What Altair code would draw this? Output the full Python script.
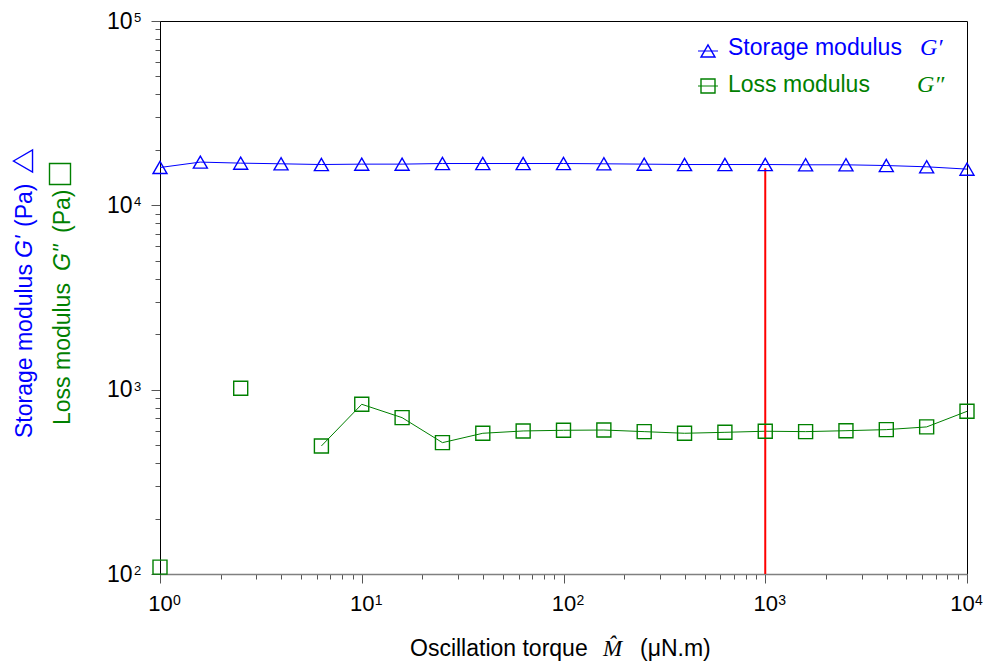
import altair as alt
import pandas as pd

# ---- data ----
torque = [1, 1.585, 2.512, 3.981, 6.310, 10, 15.85, 25.12, 39.81, 63.10, 100,
          158.5, 251.2, 398.1, 631.0, 1000, 1585, 2512, 3981, 6310, 10000]
storage = [16040, 17160, 16940, 16800, 16650, 16730, 16730, 16860, 16860, 16860, 16860,
           16800, 16730, 16650, 16650, 16650, 16590, 16590, 16440, 16180, 15720]
loss = [109, None, 1018, None, 495, 833, 705, 516, 580, 597, 602,
        604, 592, 580, 587, 595, 592, 599, 607, 628, 763]
marker_torque = [1000]
marker_top = [15900]
marker_bottom = [100]

x_major = [1, 10, 100, 1000, 10000]
x_exp = ["0", "1", "2", "3", "4"]
y_major = [100, 1000, 10000, 100000]
y_exp = ["2", "3", "4", "5"]
x_ticks = [m * 10 ** e for e in range(4) for m in range(1, 10)] + [10000]
y_ticks = [m * 10 ** e for e in range(2, 5) for m in range(1, 10)] + [100000]

# ---- tables ----
df_s = pd.DataFrame({"M": torque, "G": storage})
rows = []
seg = 0
for m, g in zip(torque, loss):
    if g is None:
        seg += 1
        continue
    rows.append({"M": m, "G": g, "seg": seg})
df_l = pd.DataFrame(rows)
df_r = pd.DataFrame({"M": marker_torque, "G": marker_top, "G2": marker_bottom})
df_xe = pd.DataFrame({"M": x_major, "e": x_exp})
df_ye = pd.DataFrame({"G": y_major, "e": y_exp})
one = pd.DataFrame({"a": [0]})

BLUE = "#0000ff"
GREEN = "#008000"
SANS = "Liberation Sans"
SERIF = "Liberation Serif"

major = "abs(log(datum.value)/LN10 - round(log(datum.value)/LN10)) < 0.001"
label = "(" + major + ") ? '10' : ''"

X = alt.X("M:Q",
          scale=alt.Scale(type="log", domain=[1, 10000], nice=False),
          axis=alt.Axis(title=None, values=x_ticks, labelExpr=label, labelOverlap=False,
                        grid=False, domainColor="#808080", domainWidth=1.5,
                        tickColor="#555555", tickWidth=1,
                        tickSize={"condition": {"test": major, "value": 9}, "value": 5},
                        labelFont=SANS, labelFontSize=22, labelColor="black",
                        labelPadding=10, labelFlush=False, labelAlign="center",
                        labelOffset={"condition": {"test": "datum.value >= 5000", "value": -5},
                                     "value": 0}))
Y = alt.Y("G:Q",
          scale=alt.Scale(type="log", domain=[100, 100000], nice=False),
          axis=alt.Axis(title=None, values=y_ticks, labelExpr=label, labelOverlap=False,
                        grid=False, domainColor="black", domainWidth=1,
                        tickColor="#555555", tickWidth=1,
                        tickSize={"condition": {"test": major, "value": 9}, "value": 5},
                        labelFont=SANS, labelFontSize=23, labelColor="black",
                        labelPadding=19, labelFlush=False))

s_line = alt.Chart(df_s).mark_line(color=BLUE, strokeWidth=1).encode(x=X, y=Y)
s_pts = alt.Chart(df_s).mark_point(shape="triangle-up", size=196, filled=False,
                                   color=BLUE, strokeWidth=1.4, opacity=1).encode(x=X, y=Y)
l_line = alt.Chart(df_l).mark_line(color=GREEN, strokeWidth=1).encode(
    x=X, y=Y, detail="seg:N")
l_pts = alt.Chart(df_l).mark_point(shape="square", size=196, filled=False,
                                   color=GREEN, strokeWidth=1.4, opacity=1).encode(x=X, y=Y)
rule = alt.Chart(df_r).mark_rule(color="#ff0000", strokeWidth=2).encode(
    x=X, y=Y, y2="G2:Q")

# exponents of the tick labels (superscripts)
x_sup = alt.Chart(df_xe).transform_filter("datum.M < 5000").mark_text(
    align="left", baseline="alphabetic", dx=13, font=SANS, fontSize=14,
    color="black").encode(x=X, y=alt.value(584), text="e:N")
x_sup_last = alt.Chart(df_xe).transform_filter("datum.M >= 5000").mark_text(
    align="left", baseline="alphabetic", dx=8, font=SANS, fontSize=14,
    color="black").encode(x=X, y=alt.value(584), text="e:N")
y_sup = alt.Chart(df_ye).mark_text(align="left", baseline="alphabetic", dy=1,
                                   font=SANS, fontSize=13, color="black").encode(
    x=alt.value(-26), y=Y, text="e:N")


def piece(text, x, y, color, size, font=SANS, style="normal", angle=0):
    return alt.Chart(one).mark_text(text=text, align="left", baseline="alphabetic",
                                    color=color, fontSize=size, font=font,
                                    fontStyle=style, angle=angle).encode(
        x=alt.value(x), y=alt.value(y))


def sym(shape, x, y, color, size):
    return alt.Chart(one).mark_point(shape=shape, size=size, filled=False, color=color,
                                     strokeWidth=1.4, opacity=1).encode(
        x=alt.value(x), y=alt.value(y))


def hline(x1, x2, y, color):
    return alt.Chart(one).mark_rule(color=color, strokeWidth=1).encode(
        x=alt.value(x1), x2=alt.value(x2), y=alt.value(y))


decor = [
    # legend
    hline(538, 558, 30, BLUE), sym("triangle-up", 548, 30, BLUE, 196),
    piece("Storage modulus", 568, 34, BLUE, 23),
    piece("G\u2032", 760, 34, BLUE, 24, SERIF, "italic"),
    hline(538, 558, 65, GREEN), sym("square", 548, 65, GREEN, 196),
    piece("Loss modulus", 568, 71, GREEN, 23),
    piece("G\u2033", 757, 71, GREEN, 24, SERIF, "italic"),
    # x title
    piece("Oscillation torque", 250, 635, "black", 23),
    piece("M\u0302", 443, 635, "black", 23, SERIF, "italic"),
    piece("(\u03bcN.m)", 480, 635, "black", 23),
    # y titles
    piece("Storage modulus", -128, 417, BLUE, 23, angle=270),
    piece("G'", -128, 237, BLUE, 23, style="italic", angle=270),
    piece("(Pa)", -128, 206, BLUE, 23, angle=270),
    sym("triangle-left", -137, 140, BLUE, 484),
    piece("Loss modulus", -90, 404, GREEN, 23, angle=270),
    piece("G''", -90, 250, GREEN, 23, style="italic", angle=270),
    piece("(Pa)", -90, 212, GREEN, 23, angle=270),
    sym("square", -100, 153, GREEN, 441),
]

chart = alt.layer(s_line, l_line, rule, s_pts, l_pts, x_sup, x_sup_last, y_sup,
                  *decor).properties(
    width=807, height=553,
    autosize=alt.AutoSizeParams(type="none"),
    padding={"left": 152, "top": 13, "right": 16, "bottom": 90},
).configure_view(stroke="black", strokeWidth=1)

chart.save("out.html", embed_options={"renderer": "svg", "actions": False})
